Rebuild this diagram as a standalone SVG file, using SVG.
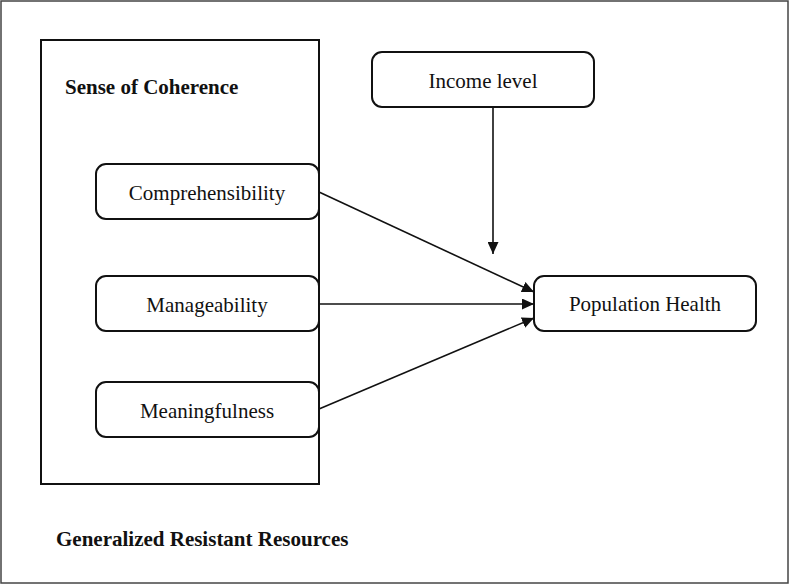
<svg xmlns="http://www.w3.org/2000/svg" width="790" height="585" viewBox="0 0 790 585">
<style>
text{font-family:"Liberation Serif","Times New Roman",serif;font-size:21px;fill:#111}
.b{font-weight:bold}
.c{text-anchor:middle}
.box{fill:#fff;stroke:#111;stroke-width:2}
.ln{stroke:#111;stroke-width:1.6;fill:none;marker-end:url(#ah)}
</style>
<defs>
<marker id="ah" viewBox="0 0 12 11" refX="12" refY="5.5" markerWidth="12" markerHeight="11" markerUnits="userSpaceOnUse" orient="auto">
<path d="M0,0 L12,5.5 L0,11 z" fill="#111"/>
</marker>
</defs>
<rect x="1" y="1" width="787" height="582" fill="#fff" stroke="#444" stroke-width="1.5"/>
<g id="grr"><text class="b" x="56" y="546">Generalized Resistant Resources</text></g>
<g id="soc">
<rect x="41" y="40" width="278" height="444" fill="#fff" stroke="#111" stroke-width="2"/>
<text class="b" x="65" y="94">Sense of Coherence</text>
</g>
<g id="comprehensibility"><rect class="box" x="96" y="164" width="223" height="55" rx="10"/><text class="c" x="207" y="200">Comprehensibility</text></g>
<g id="manageability"><rect class="box" x="96" y="276" width="223" height="55" rx="10"/><text class="c" x="207" y="312">Manageability</text></g>
<g id="meaningfulness"><rect class="box" x="96" y="382" width="223" height="55" rx="10"/><text class="c" x="207" y="418">Meaningfulness</text></g>
<g id="income"><rect class="box" x="372" y="52" width="222" height="55" rx="10"/><text class="c" x="483" y="88">Income level</text></g>
<g id="health"><rect class="box" x="534" y="276" width="222" height="55" rx="10"/><text class="c" x="645" y="311">Population Health</text></g>
<g id="connectors">
<line class="ln" x1="493" y1="107" x2="493" y2="254"/>
<line class="ln" x1="319" y1="192" x2="534" y2="292"/>
<line class="ln" x1="319" y1="304" x2="534" y2="304"/>
<line class="ln" x1="319" y1="409" x2="534" y2="318"/>
</g>
</svg>
